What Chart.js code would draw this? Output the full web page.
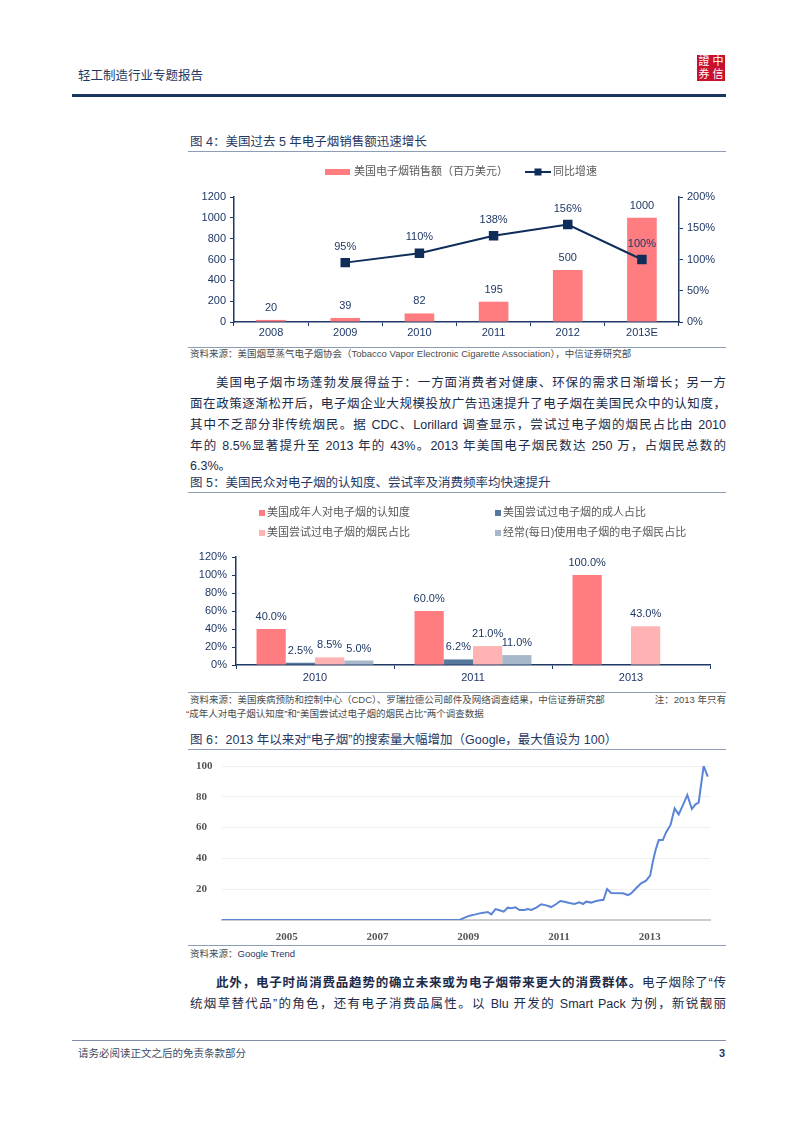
<!DOCTYPE html>
<html>
<head>
<meta charset="utf-8">
<script src="https://cdn.jsdelivr.net/npm/chart.js@4.4.1/dist/chart.umd.min.js"></script>
<style>
  body { margin: 0; background: #fff; }
  #page { position: relative; width: 802px; height: 1133px; background: #fff; overflow: hidden;
          font-family: "Liberation Sans", "Noto Sans CJK SC", sans-serif; color: #1c2b4a; }
  .t { position: absolute; line-height: 1; white-space: nowrap; }
  .j { position: absolute; line-height: 1; text-align: justify; text-align-last: justify; }
  .rule { position: absolute; height: 1px; background: #8d9db3; }
  .ttl { font-size: 12.5px; color: #1f3864; }
  .src { font-size: 9.5px; color: #4b4b4b; }
  .p { font-size: 12.5px; color: #1c2b4a; }
  canvas { position: absolute; }
  #logo { position: absolute; left: 697px; top: 55px; width: 28px; height: 26px; background: #c8102e;
          display: grid; grid-template-columns: 1fr 1fr; color: #fff; font-size: 11px; line-height: 13px; text-align: center; }
</style>
</head>
<body>
<div id="page">
  <div class="t" style="left:78px;top:70px;font-size:12.5px;color:#1f3864;">轻工制造行业专题报告</div>
  <div id="logo"><span>證</span><span>中</span><span>券</span><span>信</span></div>
  <div style="position:absolute;left:72px;top:94px;width:654px;height:3px;background:#17375e;"></div>

  <div class="t ttl" style="left:190px;top:136px;">图 4：美国过去 5 年电子烟销售额迅速增长</div>
  <div class="rule" style="left:188px;top:151px;width:538px;"></div>
  <canvas id="salesChart" width="545" height="185" style="left:185px;top:158px;width:545px;height:185px;"></canvas>
  <div class="rule" style="left:188px;top:347px;width:538px;"></div>
  <div class="t src" style="left:190px;top:349px;">资料来源：美国烟草蒸气电子烟协会（Tobacco Vapor Electronic Cigarette Association），中信证券研究部</div>

  <div class="j p" style="left:216px;top:377px;width:510px;">美国电子烟市场蓬勃发展得益于：一方面消费者对健康、环保的需求日渐增长；另一方</div>
  <div class="j p" style="left:190px;top:398px;width:536px;">面在政策逐渐松开后，电子烟企业大规模投放广告迅速提升了电子烟在美国民众中的认知度，</div>
  <div class="j p" style="left:190px;top:419px;width:536px;">其中不乏部分非传统烟民。据 CDC、Lorillard 调查显示，尝试过电子烟的烟民占比由 2010</div>
  <div class="j p" style="left:190px;top:440px;width:536px;">年的 8.5%显著提升至 2013 年的 43%。2013 年美国电子烟民数达 250 万，占烟民总数的</div>
  <div class="t p" style="left:190px;top:460px;">6.3%。</div>

  <div class="t ttl" style="left:190px;top:477px;">图 5：美国民众对电子烟的认知度、尝试率及消费频率均快速提升</div>
  <div class="rule" style="left:188px;top:492px;width:538px;"></div>
  <canvas id="surveyChart" width="545" height="190" style="left:185px;top:497px;width:545px;height:190px;"></canvas>
  <div class="rule" style="left:188px;top:692px;width:538px;"></div>
  <div class="t src" style="left:190px;top:695px;">资料来源：美国疾病预防和控制中心（CDC）、罗瑞拉德公司邮件及网络调查结果，中信证券研究部</div>
  <div class="t src" style="right:76px;top:695px;">注：2013 年只有</div>
  <div class="t src" style="left:186px;top:709px;">“成年人对电子烟认知度”和“美国尝试过电子烟的烟民占比”两个调查数据</div>

  <div class="t ttl" style="left:190px;top:734px;">图 6：2013 年以来对“电子烟”的搜索量大幅增加（Google，最大值设为 100）</div>
  <div class="rule" style="left:188px;top:749px;width:538px;"></div>
  <canvas id="trendChart" width="540" height="192" style="left:185px;top:752px;width:540px;height:192px;"></canvas>
  <div class="rule" style="left:188px;top:945px;width:538px;"></div>
  <div class="t src" style="left:190px;top:949px;">资料来源：<span style="color:#1f3864;">Google Trend</span></div>

  <div class="j p" style="left:216px;top:977px;width:510px;"><b>此外，电子时尚消费品趋势的确立未来或为电子烟带来更大的消费群体。</b>电子烟除了“传</div>
  <div class="j p" style="left:190px;top:998px;width:536px;">统烟草替代品”的角色，还有电子消费品属性。以 Blu 开发的 Smart Pack 为例，新锐靓丽</div>

  <div class="rule" style="left:72px;top:1040px;width:654px;background:#7f8fa6;"></div>
  <div class="t" style="left:78px;top:1048px;font-size:10.5px;color:#3b4a66;">请务必阅读正文之后的免责条款部分</div>
  <div class="t" style="left:719px;top:1048px;font-size:11px;font-weight:bold;color:#1f3864;">3</div>
</div>

<script>
// figure 4
var salesYears = ["2008", "2009", "2010", "2011", "2012", "2013E"];
var salesValues = [20, 39, 82, 195, 500, 1000];
var growthRates = [null, 95, 110, 138, 156, 100];

// figure 5
var surveyYears = ["2010", "2011", "2013"];
var awareness = [40.0, 60.0, 100.0];
var adultsTried = [2.5, 6.2, null];
var smokersTried = [8.5, 21.0, 43.0];
var dailyUsers = [5.0, 11.0, null];

// figure 6 (google trend, x in years)
var trendX = [2003.57, 2008.81, 2008.92, 2009.03, 2009.14, 2009.25, 2009.36, 2009.43, 2009.51, 2009.60,
  2009.69, 2009.78, 2009.87, 2009.95, 2010.04, 2010.13, 2010.24, 2010.31, 2010.39, 2010.50,
  2010.61, 2010.72, 2010.83, 2010.94, 2011.03, 2011.12, 2011.23, 2011.34, 2011.45, 2011.53,
  2011.60, 2011.71, 2011.82, 2011.93, 2011.98, 2012.06, 2012.15, 2012.41, 2012.52, 2012.59,
  2012.70, 2012.81, 2012.92, 2013.01, 2013.07, 2013.13, 2013.20, 2013.29, 2013.36, 2013.46,
  2013.55, 2013.64, 2013.74, 2013.83, 2013.93, 2014.01, 2014.08, 2014.19, 2014.28];
var trendY = [0, 0, 1.5, 2.8, 3.5, 4.3, 4.8, 5.2, 3.7, 7.1,
  6.3, 5.4, 8, 7.6, 8.2, 6.5, 6.5, 7.1, 6.5, 8,
  10.2, 9.5, 8.4, 10.4, 12.3, 11.9, 11, 10.4, 11.5, 10.4,
  11.9, 11.3, 12.3, 13, 13, 20.1, 17.5, 17.3, 16.2, 17.3,
  20.6, 23.8, 25.5, 28.8, 37.9, 45.5, 51.9, 51.9, 56.9, 61.7,
  72.5, 68.6, 75.1, 81.2, 72.1, 75.1, 76.2, 100, 93.1];
var trendTicks = [2005, 2007, 2009, 2011, 2013];

var NAVY = '#1f3864';
var FONT = "'Liberation Sans', 'Noto Sans CJK SC', sans-serif";
Chart.defaults.font.family = FONT;
Chart.defaults.font.size = 11;
Chart.defaults.color = NAVY;
Chart.defaults.animation = false;

// draws value labels above bars / points
var valueLabels = {
  id: 'valueLabels',
  afterDatasetsDraw: function(chart){
    var ctx = chart.ctx;
    chart.data.datasets.forEach(function(ds, i){
      if (!ds.labelFmt) return;
      var meta = chart.getDatasetMeta(i);
      meta.data.forEach(function(el, j){
        var v = ds.data[j];
        if (v === null || v === undefined) return;
        ctx.save();
        ctx.font = '11px ' + FONT;
        ctx.fillStyle = NAVY;
        ctx.textAlign = 'center';
        ctx.textBaseline = 'middle';
        ctx.fillText(ds.labelFmt(v), el.x, el.y - ds.labelOffset);
        ctx.restore();
      });
    });
  }
};

function legendText(ctx, txt, x, y){
  ctx.font = '11px ' + FONT;
  ctx.fillStyle = '#595959';
  ctx.textAlign = 'left';
  ctx.textBaseline = 'middle';
  ctx.fillText(txt, x, y);
}

function plain(v){ return String(v); }

function drawSales(){
  var ctx = document.getElementById('salesChart').getContext('2d');
  new Chart(ctx, {
    type: 'bar',
    data: {
      labels: salesYears,
      datasets: [{
        type: 'line',
        label: '同比增速',
        data: growthRates,
        yAxisID: 'y1',
        borderColor: '#0f2d5a',
        backgroundColor: '#0f2d5a',
        borderWidth: 2,
        pointStyle: 'rect',
        pointRadius: 5.3,
        tension: 0,
        labelFmt: function(v){ return v + '%'; },
        labelOffset: 16
      }, {
        label: '美国电子烟销售额（百万美元）',
        data: salesValues,
        yAxisID: 'y',
        backgroundColor: '#ff7c80',
        barPercentage: 0.4,
        categoryPercentage: 1,
        labelFmt: plain,
        labelOffset: 12
      }]
    },
    options: {
      responsive: false,
      devicePixelRatio: 1,
      layout: { padding: { top: 39 } },
      plugins: { legend: { display: false }, tooltip: { enabled: false } },
      scales: {
        x: {
          grid: { display: true, drawOnChartArea: false, tickLength: 4, color: NAVY },
          border: { color: NAVY, width: 1.5 },
          ticks: { padding: 0 },
          afterFit: function(s){ s.height = 21; }
        },
        y: {
          position: 'left',
          min: 0, max: 1200,
          ticks: { stepSize: 200, padding: 4, callback: plain },
          grid: { drawOnChartArea: false, tickLength: 4, color: NAVY },
          border: { color: NAVY, width: 1.5 },
          afterFit: function(s){ s.width = 49; }
        },
        y1: {
          position: 'right',
          min: 0, max: 200,
          ticks: { stepSize: 50, padding: 4, callback: function(v){ return v + '%'; } },
          grid: { drawOnChartArea: false, tickLength: 4, color: NAVY },
          border: { color: NAVY, width: 1.5 },
          afterFit: function(s){ s.width = 51; }
        }
      }
    },
    plugins: [valueLabels, {
      id: 'salesLegend',
      afterDraw: function(chart){
        var c = chart.ctx;
        c.save();
        c.fillStyle = '#ff7c80';
        c.fillRect(140, 11, 25, 6);
        legendText(c, '美国电子烟销售额（百万美元）', 169, 14);
        c.strokeStyle = '#0f2d5a';
        c.lineWidth = 2;
        c.beginPath(); c.moveTo(340, 14); c.lineTo(366, 14); c.stroke();
        c.fillStyle = '#0f2d5a';
        c.fillRect(349.5, 10.5, 7, 7);
        legendText(c, '同比增速', 368, 14);
        c.restore();
      }
    }]
  });
}

function drawSurvey(){
  var ctx = document.getElementById('surveyChart').getContext('2d');
  var pct = function(v){ return v.toFixed(1) + '%'; };
  var sets = [
    ['美国成年人对电子烟的认知度', awareness, '#ff7c80'],
    ['美国尝试过电子烟的成人占比', adultsTried, '#56799b'],
    ['美国尝试过电子烟的烟民占比', smokersTried, '#ffb3b3'],
    ['经常(每日)使用电子烟的电子烟民占比', dailyUsers, '#a7b8cb']
  ];
  new Chart(ctx, {
    type: 'bar',
    data: {
      labels: surveyYears,
      datasets: sets.map(function(s){
        return { label: s[0], data: s[1], backgroundColor: s[2], barPercentage: 1, categoryPercentage: 0.74,
                 labelFmt: pct, labelOffset: 12 };
      })
    },
    options: {
      responsive: false,
      devicePixelRatio: 1,
      layout: { padding: { top: 60, right: 20 } },
      plugins: { legend: { display: false }, tooltip: { enabled: false } },
      scales: {
        x: {
          grid: { display: true, drawOnChartArea: false, tickLength: 4, color: NAVY },
          border: { color: NAVY, width: 1.5 },
          ticks: { padding: 2 },
          afterFit: function(s){ s.height = 22; }
        },
        y: {
          min: 0, max: 120,
          ticks: { stepSize: 20, padding: 5, callback: function(v){ return v + '%'; } },
          grid: { drawOnChartArea: false, tickLength: 4, color: NAVY },
          border: { color: NAVY, width: 1.5 },
          afterFit: function(s){ s.width = 51; }
        }
      }
    },
    plugins: [valueLabels, {
      id: 'surveyLegend',
      afterDraw: function(chart){
        var c = chart.ctx;
        var spots = [[74, 16], [310, 16], [74, 36], [310, 36]];
        c.save();
        sets.forEach(function(s, i){
          c.fillStyle = s[2];
          c.fillRect(spots[i][0], spots[i][1] - 3, 6, 6);
          legendText(c, s[0], spots[i][0] + 8, spots[i][1]);
        });
        c.restore();
      }
    }]
  });
}

function drawTrend(){
  var ctx = document.getElementById('trendChart').getContext('2d');
  new Chart(ctx, {
    type: 'line',
    data: {
      datasets: [{
        data: trendX.map(function(x, i){ return { x: x, y: trendY[i] }; }),
        borderColor: '#5a84d6',
        borderWidth: 2,
        pointRadius: 0,
        tension: 0
      }]
    },
    options: {
      responsive: false,
      devicePixelRatio: 1,
      layout: { padding: { top: 14, left: 11, right: 15 } },
      plugins: { legend: { display: false }, tooltip: { enabled: false } },
      scales: {
        x: {
          type: 'linear',
          min: 2003.57, max: 2014.33,
          afterBuildTicks: function(s){ s.ticks = trendTicks.map(function(v){ return { value: v }; }); },
          ticks: { padding: 3, color: '#555', font: { family: "'Liberation Serif', serif", weight: 'bold', size: 11 },
                   callback: plain },
          grid: { display: false },
          border: { color: '#cccccc', width: 2 },
          afterFit: function(s){ s.height = 24; }
        },
        y: {
          min: 0, max: 100,
          ticks: { stepSize: 20, crossAlign: 'far', color: '#555',
                   font: { family: "'Liberation Serif', serif", weight: 'bold', size: 11 },
                   callback: function(v){ return v === 0 ? '' : v; } },
          grid: { drawTicks: false, color: function(c){ return c.tick.value === 0 ? 'rgba(0,0,0,0)' : '#efefef'; } },
          border: { display: false },
          afterFit: function(s){ s.width = 26; }
        }
      }
    }
  });
}

function init(){
  drawSales();
  drawSurvey();
  drawTrend();
}

init();
</script>
</body>
</html>
